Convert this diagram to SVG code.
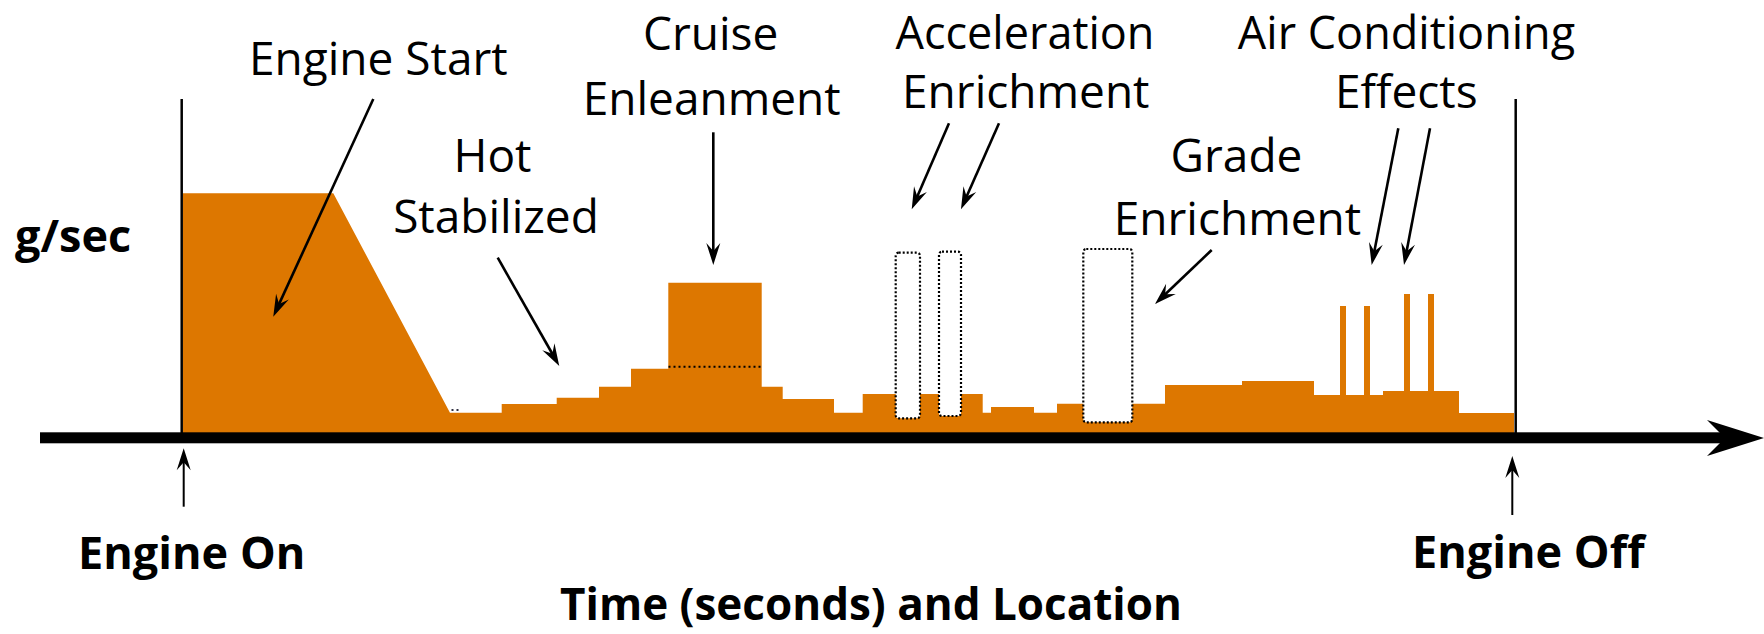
<svg xmlns="http://www.w3.org/2000/svg" width="1764" height="634" viewBox="0 0 1764 634">
<style>
.lbl{font-family:"Open Sans","Liberation Sans",sans-serif;font-size:46px;fill:#000;text-anchor:middle}
.top{font-size:45px}
.bold{font-family:"Open Sans","Liberation Sans",sans-serif;font-size:45px;font-weight:bold;fill:#000}
.orange{fill:#DD7700}
.arrow{stroke:#000;stroke-width:2.6;fill:none;marker-end:url(#head)}
.thin{stroke:#000;stroke-width:2;fill:none;marker-end:url(#head)}
.dotbox{fill:#fff;stroke:#000;stroke-width:2.2;stroke-dasharray:2 2}
.vline{stroke:#000;stroke-width:2.5}
</style>
<defs>
<marker id="head" viewBox="-16 -9 26 18" markerWidth="26" markerHeight="18" refX="0" refY="0" orient="auto" markerUnits="userSpaceOnUse">
<path d="M8,0 L-14,-7 L-6,0 L-14,7 z" fill="#000"/>
</marker>
</defs>
<rect width="1764" height="634" fill="#fff"/>

<g id="emission-profile">
<path class="orange" d="M183,193.3 L333.3,193.3 L450,412.7 L501.7,412.7 L501.7,404 L556.7,404 L556.7,397.7 L599,397.7 L599,386.7 L631,386.7 L631,368.7 L668.3,368.7 L668.3,282.7 L761.7,282.7 L761.7,386.7 L782.7,386.7 L782.7,399 L834,399 L834,412.7 L862.7,412.7 L862.7,394 L982.7,394 L982.7,412.7 L991,412.7 L991,407 L1034,407 L1034,412.7 L1057,412.7 L1057,403.7 L1165,403.7 L1165,385 L1242,385 L1242,381 L1314,381 L1314,395 L1383,395 L1383,391 L1459,391 L1459,413 L1514,413 L1514,436 L183,436 Z"/>
<rect class="orange" x="1340" y="306" width="6" height="92"/>
<rect class="orange" x="1364" y="306" width="6" height="92"/>
<rect class="orange" x="1404" y="294" width="6" height="100"/>
<rect class="orange" x="1428" y="294" width="6" height="100"/>
<line x1="668.5" y1="366.7" x2="761.5" y2="366.7" stroke="#000" stroke-width="2" stroke-dasharray="2 3"/>
<line x1="451.5" y1="410" x2="461" y2="410" stroke="#334" stroke-width="2" stroke-dasharray="2 3"/>
</g>

<g id="accel-box-1"><rect class="dotbox" x="895.7" y="252.7" width="24.3" height="165.6" rx="3"/></g>
<g id="accel-box-2"><rect class="dotbox" x="939" y="251.7" width="22" height="164.3" rx="3"/></g>
<g id="grade-box"><rect class="dotbox" x="1083.3" y="249" width="49" height="173.3" rx="3"/></g>

<g id="axes">
<line class="vline" x1="181.7" y1="99" x2="181.7" y2="434"/>
<line class="vline" x1="1515.7" y1="99" x2="1515.7" y2="434"/>
<rect x="40" y="432.3" width="1688" height="11" fill="#000"/>
<polygon points="1764,438 1707,420 1725,438 1707,456" fill="#000"/>
</g>

<g id="connectors">
<line class="arrow" x1="373.3" y1="99" x2="276.6" y2="309.4"/>
<line class="arrow" x1="497.7" y1="257.7" x2="555.3" y2="359"/>
<line class="arrow" x1="713.3" y1="132.3" x2="713.3" y2="257"/>
<line class="arrow" x1="949" y1="123.3" x2="914.9" y2="202"/>
<line class="arrow" x1="999" y1="123.3" x2="964.2" y2="202"/>
<line class="arrow" x1="1211.7" y1="250" x2="1160.8" y2="298.5"/>
<line class="arrow" x1="1398.3" y1="128.3" x2="1373.2" y2="257.2"/>
<line class="arrow" x1="1430" y1="128.3" x2="1405.5" y2="257.1"/>
<line class="thin" x1="183.7" y1="506.7" x2="183.7" y2="456.3"/>
<line class="thin" x1="1512.3" y1="515" x2="1512.3" y2="464"/>
</g>

<g id="label-engine-start"><text class="lbl" x="378.3" y="75">Engine Start</text></g>
<g id="label-hot-stabilized"><text class="lbl" x="492.5" y="171.7">Hot</text><text class="lbl" x="496" y="233.3">Stabilized</text></g>
<g id="label-cruise"><text class="lbl" x="710.7" y="50">Cruise</text><text class="lbl" x="711.7" y="115">Enleanment</text></g>
<g id="label-acceleration"><text class="lbl top" x="1025" y="48.5">Acceleration</text><text class="lbl" x="1025.8" y="108.3">Enrichment</text></g>
<g id="label-grade"><text class="lbl" x="1236.5" y="171.7">Grade</text><text class="lbl" x="1237.5" y="235">Enrichment</text></g>
<g id="label-ac"><text class="lbl top" x="1406.5" y="48.5">Air Conditioning</text><text class="lbl" x="1406.3" y="108.3">Effects</text></g>
<g id="label-gsec"><text class="bold" x="15" y="251.7">g/sec</text></g>
<g id="label-engine-on"><text class="bold" x="191.7" y="569.3" text-anchor="middle">Engine On</text></g>
<g id="label-engine-off"><text class="bold" x="1528.3" y="568.3" text-anchor="middle">Engine Off</text></g>
<g id="label-time"><text class="bold" x="871" y="620" text-anchor="middle" style="font-size:44px">Time (seconds) and Location</text></g>
</svg>
